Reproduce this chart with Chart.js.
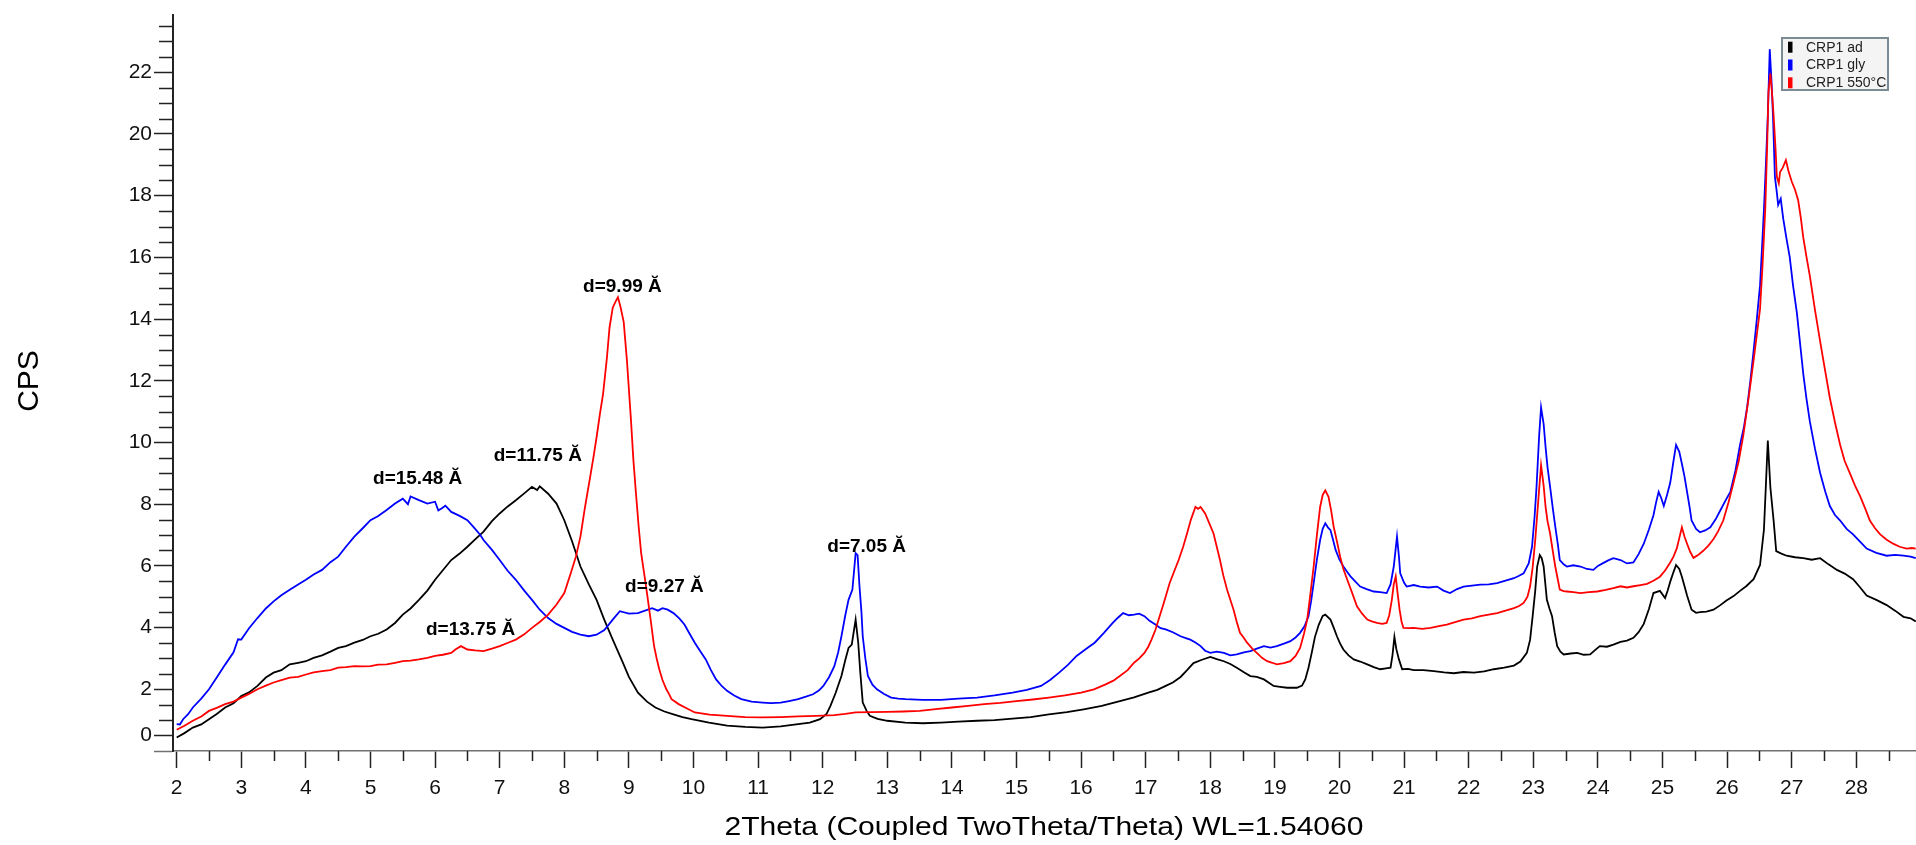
<!DOCTYPE html>
<html>
<head>
<meta charset="utf-8">
<script src="https://cdn.jsdelivr.net/npm/chart.js@4.4.1/dist/chart.umd.min.js"></script>
<style>
  html, body { margin: 0; padding: 0; background: #ffffff; }
  #c { display: block; }
</style>
</head>
<body>
<canvas id="c" width="1916" height="845"></canvas>
<script>
// ---- Data: [2Theta, CPS] pairs ----
const seriesNames = ['CRP1 ad', 'CRP1 gly', 'CRP1 550°C'];
const seriesColors = ['#000000', '#0000ff', '#ff0000'];

const crp1Ad = [
  [2.00,0.44],[2.12,0.58],[2.25,0.76],[2.38,0.86],[2.50,1.03],[2.62,1.20],[2.75,1.41],[2.88,1.55],[3.00,1.78],[3.12,1.90],[3.25,2.11],[3.38,2.38],
  [3.50,2.54],[3.62,2.62],[3.75,2.81],[3.88,2.86],[4.00,2.91],[4.12,3.02],[4.25,3.10],[4.38,3.22],[4.50,3.34],[4.62,3.40],[4.75,3.51],[4.88,3.60],
  [5.00,3.72],[5.12,3.80],[5.25,3.94],[5.38,4.15],[5.50,4.42],[5.62,4.62],[5.75,4.90],[5.88,5.20],[6.00,5.55],[6.12,5.86],[6.25,6.19],[6.38,6.40],
  [6.50,6.62],[6.62,6.86],[6.75,7.11],[6.88,7.45],[7.00,7.70],[7.12,7.92],[7.25,8.13],[7.38,8.35],[7.50,8.56],[7.58,8.46],[7.62,8.58],[7.75,8.34],
  [7.88,8.02],[8.00,7.48],[8.12,6.80],[8.25,5.98],[8.38,5.40],[8.50,4.90],[8.62,4.25],[8.75,3.61],[8.90,2.90],[9.00,2.40],[9.14,1.89],[9.28,1.60],
  [9.41,1.41],[9.55,1.28],[9.69,1.19],[9.83,1.10],[9.97,1.03],[10.24,0.92],[10.52,0.82],[10.80,0.78],[11.07,0.76],[11.35,0.80],[11.62,0.87],[11.80,0.92],
  [11.96,1.03],[12.06,1.20],[12.12,1.46],[12.20,1.88],[12.29,2.43],[12.35,2.95],[12.40,3.34],[12.45,3.45],[12.51,4.26],[12.55,3.51],[12.58,2.60],[12.62,1.57],
  [12.68,1.30],[12.73,1.14],[12.85,1.04],[13.00,0.98],[13.28,0.92],[13.55,0.90],[13.83,0.92],[14.10,0.95],[14.39,0.98],[14.66,1.00],[14.94,1.05],[15.22,1.10],
  [15.50,1.19],[15.78,1.26],[16.04,1.35],[16.32,1.46],[16.60,1.62],[16.82,1.74],[17.04,1.89],[17.18,1.98],[17.31,2.11],[17.42,2.22],[17.54,2.40],[17.64,2.62],
  [17.74,2.85],[17.86,2.95],[18.00,3.05],[18.10,2.98],[18.21,2.91],[18.31,2.82],[18.41,2.70],[18.52,2.55],[18.62,2.43],[18.72,2.40],[18.83,2.32],[18.98,2.11],
  [19.08,2.08],[19.19,2.05],[19.34,2.05],[19.42,2.12],[19.47,2.32],[19.52,2.70],[19.57,3.18],[19.62,3.70],[19.68,4.10],[19.74,4.38],[19.78,4.42],[19.86,4.26],
  [19.91,4.00],[19.96,3.72],[20.01,3.48],[20.06,3.29],[20.14,3.10],[20.22,2.97],[20.32,2.90],[20.43,2.81],[20.53,2.72],[20.63,2.65],[20.72,2.68],[20.79,2.70],
  [20.82,3.10],[20.85,3.70],[20.88,3.30],[20.92,2.97],[20.97,2.65],[21.06,2.66],[21.15,2.62],[21.30,2.62],[21.46,2.59],[21.62,2.55],[21.77,2.52],[21.92,2.56],
  [22.08,2.54],[22.24,2.58],[22.39,2.65],[22.55,2.70],[22.70,2.77],[22.80,2.90],[22.90,3.18],[22.95,3.60],[22.99,4.37],[23.03,5.20],[23.06,5.98],[23.10,6.35],
  [23.13,6.25],[23.16,5.98],[23.21,4.90],[23.25,4.62],[23.29,4.37],[23.33,3.85],[23.37,3.40],[23.42,3.22],[23.47,3.13],[23.58,3.16],[23.68,3.18],[23.78,3.12],
  [23.88,3.13],[23.96,3.28],[24.03,3.40],[24.14,3.38],[24.24,3.45],[24.35,3.54],[24.45,3.58],[24.55,3.67],[24.63,3.85],[24.71,4.12],[24.79,4.60],[24.86,5.12],
  [24.96,5.19],[25.04,4.96],[25.08,5.20],[25.12,5.49],[25.17,5.80],[25.21,6.03],[25.26,5.90],[25.30,5.65],[25.34,5.35],[25.38,5.04],[25.45,4.58],[25.52,4.48],
  [25.58,4.50],[25.68,4.52],[25.79,4.58],[25.89,4.72],[25.99,4.88],[26.10,5.02],[26.20,5.19],[26.30,5.35],[26.41,5.57],[26.51,6.03],[26.57,7.17],[26.60,8.60],
  [26.63,10.06],[26.67,8.54],[26.72,7.47],[26.76,6.48],[26.84,6.40],[26.92,6.33],[27.05,6.28],[27.18,6.25],[27.31,6.20],[27.44,6.25],[27.57,6.05],[27.70,5.87],
  [27.82,5.75],[27.95,5.57],[28.06,5.30],[28.16,5.04],[28.31,4.90],[28.47,4.73],[28.60,4.55],[28.73,4.35],[28.84,4.30],[28.92,4.20]
];

const crp1Gly = [
  [2.00,0.87],[2.05,0.86],[2.10,1.03],[2.18,1.20],[2.25,1.41],[2.38,1.70],[2.50,2.00],[2.62,2.38],[2.75,2.80],[2.88,3.20],[2.95,3.62],[3.00,3.61],
  [3.12,3.98],[3.25,4.31],[3.38,4.62],[3.50,4.85],[3.62,5.05],[3.75,5.23],[3.88,5.40],[4.00,5.55],[4.12,5.72],[4.25,5.87],[4.38,6.12],[4.50,6.30],
  [4.62,6.62],[4.75,6.95],[4.88,7.22],[5.00,7.48],[5.12,7.62],[5.25,7.81],[5.38,8.02],[5.50,8.18],[5.58,8.00],[5.62,8.25],[5.75,8.13],[5.88,8.02],
  [6.00,8.08],[6.05,7.80],[6.10,7.86],[6.16,7.95],[6.25,7.75],[6.38,7.62],[6.50,7.48],[6.60,7.25],[6.70,7.00],[6.75,6.84],[6.88,6.52],[7.00,6.19],
  [7.12,5.85],[7.25,5.55],[7.38,5.20],[7.50,4.90],[7.62,4.58],[7.75,4.31],[7.88,4.12],[8.00,3.99],[8.12,3.86],[8.25,3.77],[8.38,3.72],[8.50,3.77],
  [8.62,3.92],[8.75,4.26],[8.86,4.53],[9.00,4.45],[9.14,4.47],[9.25,4.55],[9.36,4.63],[9.45,4.55],[9.52,4.63],[9.60,4.58],[9.69,4.47],[9.78,4.30],
  [9.86,4.10],[9.94,3.80],[10.02,3.51],[10.10,3.25],[10.19,2.97],[10.27,2.62],[10.35,2.32],[10.44,2.10],[10.52,1.95],[10.63,1.80],[10.74,1.68],[10.90,1.60],
  [11.07,1.57],[11.20,1.55],[11.35,1.57],[11.48,1.62],[11.62,1.68],[11.74,1.76],[11.85,1.84],[11.94,1.96],[12.01,2.11],[12.10,2.40],[12.18,2.75],[12.24,3.20],
  [12.29,3.72],[12.35,4.40],[12.40,4.90],[12.46,5.23],[12.51,6.41],[12.54,6.35],[12.57,5.33],[12.60,4.50],[12.62,3.72],[12.66,3.00],[12.70,2.43],[12.77,2.15],
  [12.84,2.00],[12.95,1.85],[13.06,1.73],[13.17,1.70],[13.28,1.68],[13.55,1.66],[13.83,1.66],[14.10,1.70],[14.39,1.73],[14.66,1.80],[14.94,1.89],[15.16,1.98],
  [15.38,2.11],[15.52,2.30],[15.66,2.54],[15.80,2.80],[15.93,3.08],[16.07,3.30],[16.21,3.51],[16.35,3.82],[16.49,4.15],[16.57,4.32],[16.65,4.47],[16.74,4.40],
  [16.82,4.42],[16.90,4.45],[16.98,4.37],[17.06,4.22],[17.15,4.10],[17.23,3.98],[17.31,3.94],[17.42,3.85],[17.54,3.72],[17.62,3.66],[17.69,3.61],[17.77,3.52],
  [17.85,3.40],[17.92,3.25],[18.00,3.18],[18.10,3.22],[18.21,3.18],[18.31,3.10],[18.41,3.13],[18.52,3.20],[18.62,3.24],[18.72,3.32],[18.83,3.40],[18.93,3.35],
  [19.03,3.40],[19.14,3.48],[19.24,3.56],[19.32,3.68],[19.39,3.83],[19.46,4.05],[19.52,4.37],[19.56,4.85],[19.60,5.44],[19.65,6.20],[19.70,6.84],[19.74,7.20],
  [19.78,7.38],[19.82,7.25],[19.86,7.16],[19.90,6.85],[19.94,6.52],[20.00,6.20],[20.06,5.98],[20.12,5.80],[20.17,5.66],[20.25,5.48],[20.32,5.33],[20.42,5.25],
  [20.53,5.17],[20.63,5.15],[20.73,5.12],[20.79,5.40],[20.84,5.98],[20.89,6.95],[20.92,6.30],[20.94,5.76],[21.00,5.45],[21.04,5.33],[21.15,5.38],[21.25,5.33],
  [21.38,5.30],[21.51,5.33],[21.61,5.20],[21.71,5.12],[21.82,5.25],[21.92,5.33],[22.05,5.36],[22.18,5.39],[22.31,5.40],[22.44,5.44],[22.57,5.52],[22.70,5.60],
  [22.78,5.68],[22.85,5.76],[22.93,6.09],[22.98,6.62],[23.02,7.60],[23.05,8.56],[23.09,10.20],[23.12,11.14],[23.16,10.60],[23.19,9.85],[23.22,9.20],[23.26,8.56],
  [23.30,7.90],[23.34,7.27],[23.38,6.70],[23.41,6.19],[23.47,6.05],[23.52,5.98],[23.62,6.02],[23.73,5.98],[23.83,5.90],[23.93,5.87],[24.00,6.00],[24.08,6.09],
  [24.16,6.18],[24.24,6.25],[24.35,6.19],[24.45,6.08],[24.55,6.11],[24.63,6.38],[24.71,6.72],[24.79,7.18],[24.86,7.64],[24.90,8.05],[24.94,8.40],[24.98,8.20],
  [25.02,7.94],[25.07,8.30],[25.12,8.70],[25.17,9.40],[25.21,9.92],[25.26,9.70],[25.30,9.31],[25.34,8.90],[25.38,8.40],[25.42,7.90],[25.45,7.47],[25.52,7.20],
  [25.58,7.09],[25.66,7.15],[25.74,7.25],[25.82,7.50],[25.89,7.78],[25.97,8.10],[26.05,8.40],[26.13,9.10],[26.20,9.92],[26.26,10.50],[26.31,11.14],[26.36,12.00],
  [26.41,12.97],[26.46,14.00],[26.51,15.10],[26.54,16.30],[26.57,17.54],[26.60,19.00],[26.63,20.59],[26.66,22.75],[26.69,21.60],[26.71,20.59],[26.74,18.61],[26.77,18.10],
  [26.79,17.70],[26.83,17.90],[26.87,17.24],[26.92,16.60],[26.97,16.00],[27.02,15.10],[27.08,14.20],[27.13,13.20],[27.18,12.21],[27.23,11.40],[27.28,10.69],[27.36,9.80],
  [27.44,9.01],[27.52,8.40],[27.59,7.94],[27.67,7.65],[27.75,7.47],[27.85,7.20],[27.95,7.02],[28.05,6.80],[28.16,6.56],[28.31,6.42],[28.47,6.33],[28.60,6.36],
  [28.73,6.33],[28.84,6.30],[28.92,6.25]
];

const crp1Cal = [
  [2.00,0.69],[2.12,0.82],[2.25,0.98],[2.38,1.12],[2.50,1.30],[2.62,1.40],[2.75,1.52],[2.88,1.60],[3.00,1.73],[3.12,1.85],[3.25,2.00],[3.38,2.12],
  [3.50,2.22],[3.62,2.30],[3.75,2.38],[3.88,2.40],[4.00,2.48],[4.12,2.55],[4.25,2.59],[4.38,2.62],[4.50,2.70],[4.62,2.72],[4.75,2.75],[4.88,2.74],
  [5.00,2.75],[5.12,2.80],[5.25,2.81],[5.38,2.86],[5.50,2.91],[5.62,2.93],[5.75,2.97],[5.88,3.02],[6.00,3.08],[6.12,3.12],[6.25,3.18],[6.32,3.30],
  [6.40,3.40],[6.50,3.29],[6.62,3.26],[6.75,3.24],[6.88,3.32],[7.00,3.40],[7.12,3.50],[7.25,3.61],[7.38,3.78],[7.50,3.99],[7.62,4.18],[7.75,4.42],
  [7.88,4.75],[8.00,5.12],[8.10,5.76],[8.18,6.30],[8.25,6.95],[8.32,7.90],[8.40,8.88],[8.45,9.50],[8.50,10.17],[8.55,10.90],[8.60,11.57],[8.66,12.75],
  [8.70,13.72],[8.75,14.37],[8.79,14.55],[8.83,14.71],[8.87,14.40],[8.92,13.90],[8.97,12.65],[9.03,10.80],[9.07,9.42],[9.11,8.34],[9.15,7.30],[9.19,6.41],
  [9.24,5.70],[9.28,5.12],[9.34,4.20],[9.39,3.40],[9.43,3.00],[9.47,2.65],[9.52,2.30],[9.58,2.00],[9.62,1.85],[9.66,1.68],[9.77,1.52],[9.90,1.38],
  [10.02,1.25],[10.25,1.18],[10.52,1.14],[10.80,1.10],[11.07,1.09],[11.35,1.10],[11.62,1.12],[11.90,1.14],[12.18,1.16],[12.35,1.20],[12.51,1.25],[12.75,1.26],
  [13.00,1.27],[13.25,1.28],[13.50,1.30],[13.75,1.36],[14.00,1.41],[14.25,1.46],[14.50,1.52],[14.75,1.56],[15.00,1.62],[15.25,1.67],[15.50,1.73],[15.75,1.80],
  [16.00,1.89],[16.20,2.00],[16.38,2.16],[16.50,2.28],[16.60,2.43],[16.72,2.62],[16.82,2.86],[16.90,3.00],[16.98,3.18],[17.04,3.38],[17.09,3.61],[17.15,3.92],
  [17.20,4.26],[17.28,4.80],[17.37,5.44],[17.44,5.82],[17.51,6.19],[17.58,6.62],[17.64,7.05],[17.70,7.50],[17.77,7.91],[17.81,7.85],[17.85,7.91],[17.92,7.70],
  [17.98,7.40],[18.05,7.05],[18.10,6.62],[18.15,6.19],[18.20,5.70],[18.26,5.23],[18.31,4.90],[18.36,4.58],[18.41,4.18],[18.46,3.83],[18.52,3.66],[18.57,3.51],
  [18.65,3.32],[18.72,3.18],[18.80,3.02],[18.88,2.91],[18.96,2.86],[19.03,2.81],[19.14,2.85],[19.24,2.91],[19.32,3.08],[19.39,3.34],[19.45,3.80],[19.50,4.26],
  [19.55,5.10],[19.60,5.98],[19.65,7.00],[19.70,7.91],[19.74,8.30],[19.78,8.45],[19.83,8.24],[19.87,7.80],[19.91,7.27],[19.96,6.80],[20.01,6.30],[20.06,5.90],
  [20.12,5.55],[20.20,5.10],[20.27,4.69],[20.35,4.45],[20.43,4.26],[20.50,4.20],[20.58,4.15],[20.66,4.12],[20.73,4.15],[20.77,4.40],[20.81,4.90],[20.84,5.40],
  [20.87,5.66],[20.90,5.10],[20.93,4.58],[20.96,4.20],[20.99,3.99],[21.07,3.98],[21.15,3.99],[21.28,3.96],[21.41,3.99],[21.54,4.05],[21.66,4.10],[21.79,4.18],
  [21.92,4.26],[22.05,4.30],[22.18,4.37],[22.31,4.42],[22.44,4.47],[22.57,4.55],[22.70,4.63],[22.78,4.70],[22.85,4.80],[22.91,5.00],[22.95,5.33],[22.99,5.95],
  [23.03,6.84],[23.08,8.20],[23.12,9.26],[23.16,8.60],[23.19,7.91],[23.22,7.45],[23.26,7.05],[23.30,6.50],[23.34,5.98],[23.38,5.55],[23.41,5.23],[23.47,5.18],
  [23.52,5.17],[23.62,5.15],[23.73,5.12],[23.86,5.15],[23.99,5.17],[24.12,5.22],[24.24,5.28],[24.35,5.34],[24.45,5.30],[24.55,5.34],[24.66,5.38],[24.76,5.42],
  [24.86,5.52],[24.96,5.65],[25.04,5.85],[25.12,6.11],[25.17,6.30],[25.22,6.56],[25.26,6.90],[25.30,7.25],[25.34,6.95],[25.38,6.72],[25.43,6.45],[25.48,6.26],
  [25.55,6.35],[25.63,6.49],[25.71,6.66],[25.79,6.87],[25.86,7.12],[25.94,7.47],[26.02,8.05],[26.10,8.70],[26.18,9.40],[26.25,10.22],[26.33,11.40],[26.41,12.66],
  [26.46,13.50],[26.51,14.33],[26.55,15.80],[26.59,17.54],[26.62,19.60],[26.64,21.35],[26.67,21.96],[26.70,21.20],[26.72,20.59],[26.75,19.50],[26.77,18.61],[26.80,18.40],
  [26.82,18.77],[26.86,18.90],[26.91,19.15],[26.95,18.80],[27.00,18.46],[27.05,18.20],[27.10,17.85],[27.14,17.30],[27.18,16.63],[27.23,16.00],[27.28,15.41],[27.36,14.30],
  [27.44,13.28],[27.52,12.30],[27.59,11.45],[27.67,10.65],[27.75,9.92],[27.82,9.40],[27.90,9.01],[27.98,8.60],[28.06,8.25],[28.14,7.85],[28.21,7.47],[28.29,7.22],
  [28.37,7.02],[28.47,6.85],[28.57,6.72],[28.67,6.62],[28.78,6.56],[28.86,6.58],[28.92,6.56]
];

// Peak annotations (text at data coordinates)
const peakLabels = ['d=15.48 Ă', 'd=11.75 Ă', 'd=9.99 Ă', 'd=9.27 Ă', 'd=13.75 Ă', 'd=7.05 Ă'];
const peakLabelTheta = [5.73, 7.59, 8.90, 9.55, 6.55, 12.68];
const peakLabelCps = [8.81, 9.58, 15.06, 5.33, 3.94, 6.62];

// Axis ticks
const xTickLabels = [2,3,4,5,6,7,8,9,10,11,12,13,14,15,16,17,18,19,20,21,22,23,24,25,26,27,28];
const yTickLabels = [2,4,6,8,10,12,14,16,18,20,22];
const xTitle = '2Theta (Coupled TwoTheta/Theta) WL=1.54060';
const yTitle = 'CPS';

// ---- Chart ----
const toPts = arr => arr.map(p => ({ x: p[0], y: p[1] }));
const FONT = '"Liberation Sans", Arial, sans-serif';

const isMajorX = v => Math.abs(v - Math.round(v)) < 1e-6;
const yLabelFor = v => {
  if (Math.abs(v - 0.5) < 1e-6) return '0';
  const r = Math.round(v);
  if (Math.abs(v - r) < 1e-6 && yTickLabels.includes(r)) return String(r);
  return '';
};

const decorPlugin = {
  id: 'decor',
  afterDraw(chart) {
    const { ctx, scales: { x, y } } = chart;
    ctx.save();
    // minor ticks
    ctx.strokeStyle = '#222';
    ctx.lineWidth = 1.5;
    ctx.beginPath();
    x.ticks.forEach(t => {
      if (!isMajorX(t.value)) {
        const px = Math.round(x.getPixelForValue(t.value)) + 0.5;
        ctx.moveTo(px, x.top); ctx.lineTo(px, x.top + 10);
      }
    });
    y.ticks.forEach(t => {
      if (yLabelFor(t.value) === '' && t.value > 0.01) {
        const py = Math.round(y.getPixelForValue(t.value)) + 0.5;
        ctx.moveTo(y.right - 14, py); ctx.lineTo(y.right, py);
      }
    });
    ctx.stroke();

    // peak labels
    ctx.fillStyle = '#000';
    ctx.font = 'bold 19px ' + FONT;
    ctx.textAlign = 'center';
    ctx.textBaseline = 'middle';
    peakLabels.forEach((s, i) => {
      ctx.fillText(s, x.getPixelForValue(peakLabelTheta[i]), y.getPixelForValue(peakLabelCps[i]));
    });

    // x axis title (stretched to reference width)
    ctx.font = '26px ' + FONT;
    ctx.textAlign = 'center';
    ctx.textBaseline = 'alphabetic';
    const w = ctx.measureText(xTitle).width;
    ctx.save();
    ctx.translate(1044, 835);
    ctx.scale(639 / w, 1);
    ctx.fillText(xTitle, 0, 0);
    ctx.restore();

    // y axis title
    ctx.save();
    ctx.translate(38, 381);
    ctx.rotate(-Math.PI / 2);
    ctx.font = '30px ' + FONT;
    ctx.textAlign = 'center';
    ctx.textBaseline = 'alphabetic';
    ctx.fillText(yTitle, 0, 0);
    ctx.restore();

    // legend box
    const lx = 1782, ly = 38, lw = 106, lh = 52;
    ctx.fillStyle = '#f4f4f4';
    ctx.fillRect(lx, ly, lw, lh);
    ctx.strokeStyle = '#7b8b95';
    ctx.lineWidth = 2;
    ctx.strokeRect(lx, ly, lw, lh);
    ctx.font = '14px ' + FONT;
    ctx.textAlign = 'left';
    ctx.textBaseline = 'middle';
    seriesNames.forEach((n, i) => {
      const cy = 47.2 + i * 17.8;
      ctx.fillStyle = seriesColors[i];
      ctx.fillRect(1788, cy - 5.5, 4.5, 11);
      ctx.fillStyle = '#222';
      ctx.fillText(n, 1806, cy + 0.5);
    });
    ctx.restore();
  }
};

const makeTicks = (from, to, step) => {
  const out = [];
  for (let v = from; v <= to + 1e-9; v += step) out.push({ value: Math.round(v * 100) / 100 });
  return out;
};

new Chart(document.getElementById('c'), {
  type: 'line',
  data: {
    datasets: [
      { label: seriesNames[0], data: toPts(crp1Ad), borderColor: seriesColors[0], order: 2 },
      { label: seriesNames[1], data: toPts(crp1Gly), borderColor: seriesColors[1], order: 1 },
      { label: seriesNames[2], data: toPts(crp1Cal), borderColor: seriesColors[2], order: 0 }
    ]
  },
  options: {
    responsive: false,
    animation: false,
    devicePixelRatio: 1,
    layout: { padding: { left: 0, right: 0, top: 12, bottom: 0 } },
    elements: {
      point: { radius: 0, hoverRadius: 0 },
      line: { tension: 0, borderWidth: 1.8, fill: false }
    },
    plugins: { legend: { display: false }, tooltip: { enabled: false }, title: { display: false } },
    scales: {
      x: {
        type: 'linear',
        min: 1.943,
        max: 28.924,
        afterBuildTicks: s => { s.ticks = makeTicks(2, 28.5, 0.5); },
        afterFit: s => { s.height = 94; },
        border: { display: true, color: '#707070', width: 1.5 },
        grid: {
          drawOnChartArea: false,
          drawTicks: true,
          tickLength: 17,
          tickWidth: 1.5,
          tickColor: c => (c.tick && isMajorX(c.tick.value)) ? '#222' : 'rgba(0,0,0,0)'
        },
        ticks: {
          autoSkip: false,
          maxRotation: 0,
          padding: 8,
          color: '#111',
          font: { family: FONT, size: 21 },
          callback: v => isMajorX(v) && xTickLabels.includes(Math.round(v)) ? String(Math.round(v)) : ''
        }
      },
      y: {
        type: 'linear',
        min: 0,
        max: 23.87,
        afterBuildTicks: s => { s.ticks = makeTicks(0, 23.5, 0.5); },
        afterFit: s => { s.width = 173; },
        border: { display: true, color: '#222', width: 2 },
        grid: {
          drawOnChartArea: false,
          drawTicks: true,
          tickLength: 19,
          tickWidth: 1.5,
          tickColor: c => {
            if (!c.tick) return 'rgba(0,0,0,0)';
            if (c.tick.value === 0) return '#707070';
            return yLabelFor(c.tick.value) !== '' ? '#222' : 'rgba(0,0,0,0)';
          }
        },
        ticks: {
          autoSkip: false,
          padding: 2,
          color: '#111',
          font: { family: FONT, size: 21 },
          callback: v => yLabelFor(v)
        }
      }
    }
  },
  plugins: [decorPlugin]
});
</script>
</body>
</html>
